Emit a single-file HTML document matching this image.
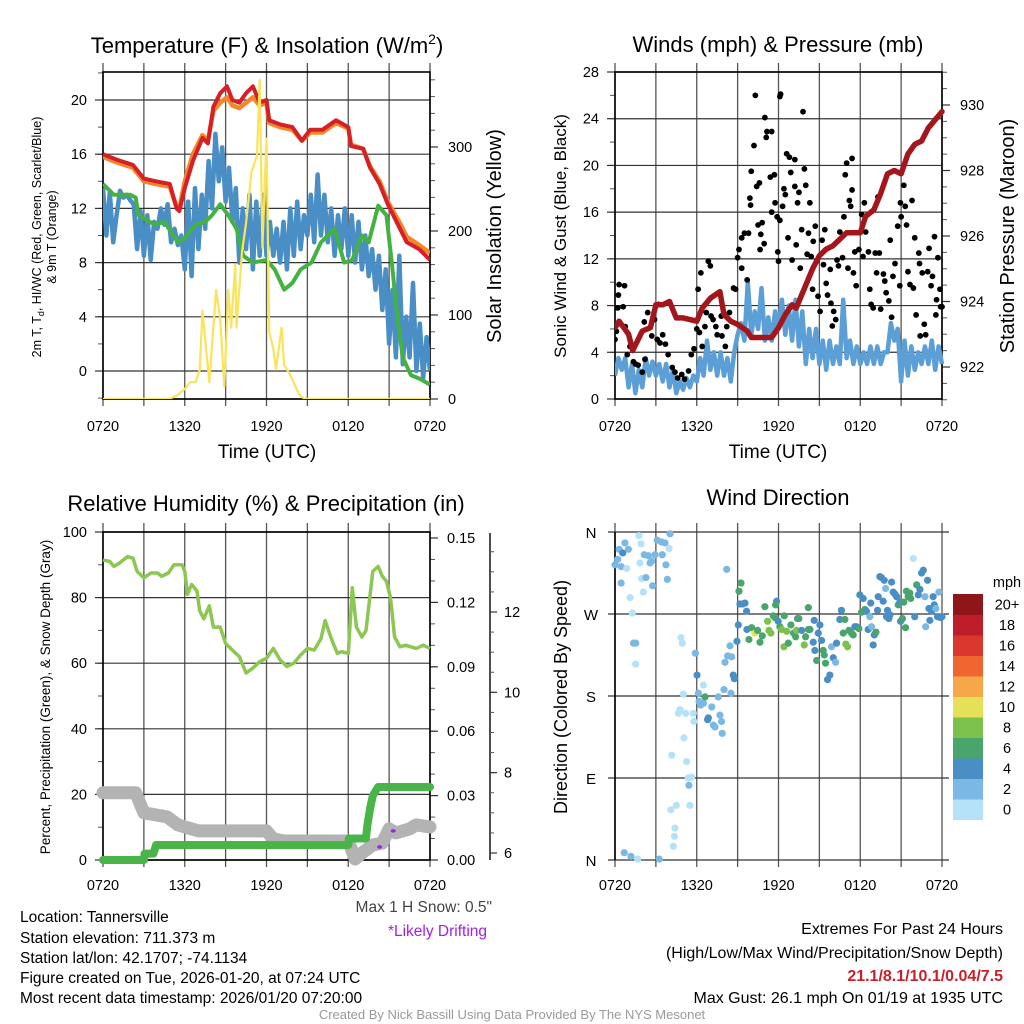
<!DOCTYPE html>
<html><head><meta charset="utf-8"><title>Tannersville Meteogram</title>
<style>
html,body{margin:0;padding:0;background:#fff;}
svg{display:block;font-family:"Liberation Sans",sans-serif;}
</style></head>
<body>
<svg id="chart" width="1024" height="1024" viewBox="0 0 1024 1024" xmlns="http://www.w3.org/2000/svg">
<rect width="1024" height="1024" fill="#fff"/>
<g id="layer"></g>
<text x="267" y="53" font-size="22" text-anchor="middle">Temperature (F) &amp; Insolation (W/m<tspan font-size="14" dy="-9">2</tspan><tspan dy="9">)</tspan></text>
<text x="778" y="52" font-size="22" text-anchor="middle">Winds (mph) &amp; Pressure (mb)</text>
<text x="266" y="511" font-size="22" text-anchor="middle">Relative Humidity (%) &amp; Precipitation (in)</text>
<text x="778" y="505" font-size="22" text-anchor="middle">Wind Direction</text>
<text x="267" y="458" font-size="19" text-anchor="middle">Time (UTC)</text>
<text x="778" y="458" font-size="19" text-anchor="middle">Time (UTC)</text>
<text transform="translate(41,237) rotate(-90)" font-size="12.5" text-anchor="middle">2m T, T<tspan font-size="9" dy="3">d</tspan><tspan dy="-3">, HI/WC (Red, Green, Scarlet/Blue)</tspan></text>
<text transform="translate(56,237) rotate(-90)" font-size="12.5" text-anchor="middle">&amp; 9m T (Orange)</text>
<text transform="translate(501,236) rotate(-90)" font-size="20" text-anchor="middle">Solar Insolation (Yellow)</text>
<text transform="translate(566,236) rotate(-90)" font-size="17" text-anchor="middle">Sonic Wind &amp; Gust (Blue, Black)</text>
<text transform="translate(1014,236) rotate(-90)" font-size="20" text-anchor="middle">Station Pressure (Maroon)</text>
<text transform="translate(50,697) rotate(-90)" font-size="13.5" text-anchor="middle">Percent, Precipitation (Green), &amp; Snow Depth (Gray)</text>
<text transform="translate(567,697) rotate(-90)" font-size="18" text-anchor="middle">Direction (Colored By Speed)</text>
<g font-size="15.5">
<text x="20" y="922">Location: Tannersville</text>
<text x="20" y="943">Station elevation: 711.373 m</text>
<text x="20" y="963">Station lat/lon: 42.1707; -74.1134</text>
<text x="20" y="983">Figure created on Tue, 2026-01-20, at 07:24 UTC</text>
<text x="20" y="1003">Most recent data timestamp: 2026/01/20 07:20:00</text>
</g>
<text x="492" y="912" font-size="15.5" fill="#444" text-anchor="end">Max 1 H Snow: 0.5"</text>
<text x="487" y="936" font-size="15.5" fill="#a020f0" text-anchor="end">*Likely Drifting</text>
<g font-size="16" text-anchor="end">
<text x="1003" y="934">Extremes For Past 24 Hours</text>
<text x="1003" y="958">(High/Low/Max Wind/Precipitation/Snow Depth)</text>
<text x="1003" y="981" fill="#c8202a" font-weight="bold">21.1/8.1/10.1/0.04/7.5</text>
<text x="1003" y="1003">Max Gust: 26.1 mph On 01/19 at 1935 UTC</text>
</g>
<text x="512" y="1019" font-size="13" fill="#999" text-anchor="middle">Created By Nick Bassill Using Data Provided By The NYS Mesonet</text>
</svg>
<script>
// ---------- DATA ----------
const xTickLabels = ["0720","1320","1920","0120","0720"];
const tempT = [0,1,2.2,3,3.9,4.9,5.4,5.6,6,6.6,7.3,7.7,8.1,8.6,9.1,9.5,10,10.5,11,11.5,12,12.2,13,13.9,14.6,15.2,16.1,17.1,18,18.2,19.1,19.6,20.3,20.9,21.8,22.3,23.2,24];
const tempRed = [16,15.6,15.2,14.2,14,13.8,12,11.8,13.5,15.5,17.2,16.8,19.5,20.5,21,20,19.8,20.5,21,19.8,20,18.5,18.2,18,17,17.8,17.8,18.5,18,16.6,16.4,15,13.8,12.3,10.5,9.5,9,8.2];
const tempOrange = [15.8,15.4,15,14,13.8,13.6,12.1,12,14,16,17.4,17,19.2,19.8,20.2,19.6,19.4,19.8,20.2,19.6,19.8,18.3,18,17.8,17,17.6,17.6,18.3,17.9,16.7,16.4,15.1,14,12.5,10.9,9.9,9.3,8.7];
const dewT = [0,0.8,1.5,2,2.4,2.6,3.8,4.5,5.5,6,6.8,7.5,8,8.6,9.2,9.8,10.3,11,12,12.6,13.3,13.9,14.5,15.3,16,17,17.7,18.3,19,19.5,20.2,20.8,21.2,21.6,22,22.6,23.3,24];
const dewV = [13.8,13,13,13,12.8,11.5,10.8,11,9.5,9.8,10.8,11,11.5,12.3,11.5,10.5,8.5,8,8.2,7.5,6,6.5,7.5,8,9.5,10.5,8,8.2,10,9.5,12.2,11.5,8,4,1,-0.3,-0.6,-1];
const wcV = [13.5,10,13.2,9.5,11.5,13.3,12.8,13,12.6,12.3,9,11.8,8.5,11.5,8.2,11,10.5,12,10.8,12.3,9.5,10.5,9.3,10,7.5,12.5,7,13.5,9,13,10.5,15.5,12,17.5,14,16.5,12.5,15,11,13.5,8,12,9,13,7.5,12.5,8.5,13,8.5,11,8.5,10.5,8,11,7.5,12,8.5,12.5,9,11.5,10,13,9.5,14.5,10,13,9.5,12,8.5,11.5,9,12,8.5,11.5,8,11,7.5,10,7,9,6,8.5,4.5,7.5,2,6,1,8.5,0.5,4,1,6.5,0,3.5,-0.5,2.5,0];
const solarT = [0,4.8,5,5.5,6,6.4,6.8,7.1,7.3,7.8,8.3,8.6,8.9,9.2,9.4,9.7,9.8,10.2,10.5,10.9,11.3,11.5,11.7,12,12.2,12.5,12.7,13.1,13.3,13.7,14.4,14.8,24];
const solarV = [0,0,1,5,12,20,20,35,105,20,130,95,15,130,85,160,85,175,210,270,290,380,180,310,80,60,35,85,40,30,5,0,0];
const pressT = [0,0.3,1,1.3,2,2.6,3,3.5,4,4.5,5,6,6.4,7,7.7,8,8.5,9,9.7,10,10.5,11,11.5,12,12.5,13,13.3,14,14.5,15,15.5,16,16.5,17,18,18.4,19,19.5,20,20.5,21,21.5,22,22.5,23,24];
const pressV = [923.2,923.4,923.0,922.5,923.1,923.2,923.9,923.9,924.0,923.5,923.5,923.4,923.8,924.1,924.3,923.6,923.4,923.3,923.1,922.9,922.9,922.9,922.9,923.2,923.6,923.9,923.8,924.5,925.0,925.4,925.6,925.7,925.9,926.1,926.1,926.6,926.8,927.3,927.9,928.0,927.9,928.5,928.8,928.9,929.3,929.8];
const windV = [2,3.5,2.5,3.5,1,3,0.5,2.5,1,3.5,2,3.2,2,3,1.5,3,1,2.5,0.5,1.5,0.8,1.8,1,2,1.5,3.5,2,5,2.5,4,2,4,2,3.5,1.5,4,5.5,6.5,5,10,5.5,7.5,6,9.5,5,7,5,7.5,6,8.5,5.5,8,5,8.5,4.5,7.5,3,6,3.5,6,3,5,2.5,5,3,4.5,3,8.5,3.5,5,3,4.5,3,4,3,4.5,3,4.5,3,4,4,6.5,5,6,1.5,5,2,4.5,2.5,4,3,4.5,3,5,2.5,4.5,3];
const gustT = [0,0.1,0.2,0.25,0.3,0.7,0.6,0.75,0.9,1.1,1.35,1.5,1.7,2,2.15,2.2,2.4,2.7,2.9,3.1,3.2,3.3,3.5,3.7,3.9,4.2,4.4,4.6,4.9,5.1,5.4,5.6,5.8,6,6.1,6.2,6.3,6.4,6.6,6.7,6.85,7,7.05,7.2,7.4,7.5,7.8,7.85,8.1,8.2,8.4,8.7,8.85,9,9.1,9.3,9.3,9.5,9.7,9.8,9.9,9.95,10,10.2,10.3,10.4,10.5,10.6,10.65,10.7,10.8,10.95,11,11.1,11.15,11.4,11.5,11.5,11.7,11.75,11.9,11.95,12,12.1,12.1,12.15,12.3,12.4,12.5,12.6,12.7,12.8,12.9,13,13.2,13.2,13.3,13.4,13.5,13.6,13.7,13.8,13.9,14,14.1,14.2,14.3,14.4,14.5,14.55,14.7,14.8,14.9,15.05,15.2,15.3,15.4,15.5,15.6,15.8,15.85,15.95,16.05,16.2,16.3,16.4,16.5,16.7,16.8,16.9,17,17.1,17.2,17.3,17.4,17.4,17.5,17.6,17.7,17.9,18.1,18.2,18.3,18.4,18.6,18.7,18.8,18.95,19.1,19.2,19.3,19.4,19.5,19.7,19.8,19.9,20.1,20.2,20.3,20.4,20.55,20.75,20.9,20.95,21,21.2,21.3,21.4,21.5,21.65,21.8,21.9,22,22.1,22.3,22.35,22.4,22.55,22.7,22.8,22.95,23.05,23.2,23.3,23.45,23.55,23.6,23.7,23.85,23.9,24];
const gustV = [5.1,5.8,7.8,8.9,9.8,9.7,7.9,6.2,3.8,4.5,3.2,3.0,2.9,2.3,6.6,3.4,7.4,5.4,6.8,5.1,8.1,4.8,5.5,4.7,3.8,2.7,2.3,1.8,2.1,1.7,2.4,3.8,4.3,6.0,9.4,5.7,10.8,4.5,6.2,7.4,11.8,11.4,7.1,6.8,6.2,5.5,7.1,5.4,4.5,6.2,7.4,9.5,9.4,12.1,12.8,11.2,13.8,14.2,10.2,14.2,17.2,16.6,19.5,21.7,26,18.2,14.9,18.5,12.8,14.1,15.1,13.3,24.1,22.4,22.9,19,22.9,16,19.2,16.8,15.6,12.6,11.8,15.3,25.9,26.1,16.5,18,17.5,21,13.8,20.7,19.4,11.9,20.5,18.2,13.2,16.8,17.7,11.2,14.5,24.6,19.7,18.3,12.4,14.2,16.8,12.2,9.4,13.5,14.8,11.8,8.8,7.5,13.6,11.5,14.5,9.9,8.9,11.1,8.2,6.25,7.5,6.8,11.9,11.4,14.3,12.1,15.6,19.2,20.2,11.2,17,16.5,17.9,20.6,10.8,12.6,9.7,12.8,15.8,12.2,16.8,14.3,12.6,9.4,8.1,7.8,12.5,10.8,17.3,12.5,7.7,10.7,10.1,9.1,8.4,13.6,7,10.5,11.6,14.8,9.7,16.8,15.6,18.3,16.5,14.9,10.9,9.8,17,9.5,13.8,7.2,12.5,11.6,5.4,10.8,6.4,5.5,10.9,12.9,9.7,10.5,13.9,7.2,8.5,12.1,9.4,7.9,7.9];
const rhT = [0,0.5,0.8,1.2,1.8,2.2,2.5,3,3.5,4,4.3,4.8,5.2,5.8,6,6.2,6.5,6.9,7.1,7.4,7.8,8.1,8.6,9,9.5,10,10.5,11,11.5,12,12.5,13,13.5,14,14.5,15,15.5,16,16.3,16.8,17.2,17.5,18,18.3,18.6,19,19.3,19.8,20.2,20.5,20.8,21.1,21.4,21.8,22.2,22.6,23,23.5,24];
const rhV = [91.5,91,89.5,90.5,92.5,92,88,86,87.5,87.5,86.5,87.5,90,90,88,81,84,82,76,73.5,77.5,71,71,66,64,62,57,58.5,60.5,61.5,64.5,61,59,60,62.5,64.5,64,67.5,73,67,63,63.5,63,83,71,68,70,88,89.5,86.5,85,80,68,65,65.5,65,64.5,65.5,64.5];
const precipT = [0,3,3.05,3.7,3.9,18,18.05,19.3,19.4,19.6,19.8,20.2,24];
const precipV = [0,0,0.003,0.003,0.007,0.007,0.01,0.01,0.016,0.024,0.03,0.034,0.034];
const snowT = [0,2.4,3,4.7,5.5,7,12,12.5,13.3,18,18.5,19,19.8,20.5,21,21.5,22.5,23,24];
const snowV = [7.5,7.5,7.0,6.9,6.7,6.55,6.55,6.35,6.3,6.3,5.85,6.0,6.2,6.25,6.6,6.5,6.6,6.7,6.65];
const driftT = [20.3,21.3];
const driftV = [6.15,6.55];
const dirT = [0,0.2,0.3,0.45,0.57,0.73,0.98,0.45,0.86,1.1,1.27,1.36,1.52,1.52,1.76,1.91,1.83,1.96,2.08,2.15,2.27,2.45,2.57,2.69,2.76,2.94,3.1,3.42,3.67,3.47,3.74,3.84,3.97,4.04,0.68,1.17,1.66,3.25,4.28,4.36,4.4,4.1,4.5,4.16,4.65,4.84,4.94,4.77,5.01,5.19,5.06,5.26,5.38,5.43,5.5,5.62,5.75,5.79,5.9,6.02,6.12,6.17,6.29,6.49,6.49,6.61,6.8,6.85,7.1,7.22,7.34,7.58,7.7,7.82,7.87,8,8.07,8.27,8.44,8.56,8.2,8.51,8.68,8.76,8.95,9.05,9.1,9.25,9.17,9.37,9.54,9.66,9.68,9.83,10.03,10.27,10.47,10.64,10.81,11,11.2,11.3,11.44,11.62,11.74,11.86,11.79,11.98,12.1,12.23,12.42,12.4,12.6,12.72,12.91,13.11,13.26,13.33,13.4,13.5,13.7,13.89,13.99,14.19,14.19,14.31,14.55,14.62,14.67,14.8,14.92,15.04,15.16,15.28,15.36,15.45,15.6,15.77,15.89,16.02,16.19,16.26,16.5,16.62,16.75,16.87,16.94,17.07,17.17,17.36,17.48,17.6,17.73,17.9,17.97,18.1,18.22,18.34,18.46,18.58,18.7,18.77,18.83,18.95,19.03,19.15,19.27,19.32,19.44,19.56,19.68,19.76,19.86,19.93,20,20.1,20.18,20.3,20.42,20.54,20.67,20.79,20.91,20.96,21.1,21.2,21.32,21.39,21.52,21.64,21.71,21.89,22,22.14,22.26,22.38,22.5,22.63,22.75,22.8,22.94,23.04,23.11,23.23,23.35,23.43,23.55,23.67,23.77,23.9,24];
const dirV = [324,330,341,322,337,348,341,304,320,288,271,238,238,215,356,347,326,309,294,335,310,334,326,328,301,335,351,349,348,335,324,308,342,358,8,4,1,1,15,26,35,55,60,115,161,244,238,165,182,161,134,108,90,82,60,91,161,152,227,203,183,174,170,192,172,179,154,156,168,148,146,179,159,152,139,187,217,224,235,223,319,183,203,199,240,258,295,304,281,281,282,273,253,242,255,249,252,239,246,278,262,252,249,268,266,284,280,262,256,253,268,234,251,238,258,249,245,252,265,265,252,236,245,277,253,253,239,263,230,219,249,258,241,230,225,216,198,203,234,222,217,238,264,274,249,264,237,234,252,249,247,256,256,254,291,272,287,275,273,253,267,282,256,236,247,250,274,289,311,310,284,307,298,267,274,265,269,305,294,292,289,280,283,262,265,283,255,295,289,293,287,331,267,302,291,297,315,318,289,256,307,276,263,273,289,280,276,267,294,266,267];
const dirS = [3,3,3,3,5,3,3,3,1,1,1,3,3,1,1,1,1,1,1,3,3,3,3,3,3,3,3,3,3,3,3,3,1,3,3,3,1,3,1,1,1,1,1,1,1,1,1,1,1,1,1,1,1,3,1,1,1,1,3,5,3,3,3,1,3,7,5,5,3,3,3,3,3,3,3,3,3,3,3,3,3,3,5,5,5,5,7,7,5,5,5,5,5,7,7,11,7,7,7,7,9,9,9,7,7,5,7,5,7,9,7,9,9,7,7,7,7,9,5,7,5,9,7,7,7,7,5,5,5,7,5,5,5,7,7,7,5,5,3,5,3,5,5,5,7,7,9,9,7,7,7,5,5,7,5,7,5,7,5,5,3,5,3,5,5,7,5,5,5,5,5,5,3,5,5,5,5,5,5,5,5,7,5,5,7,7,7,7,7,7,7,1,5,7,5,5,5,5,3,3,5,5,5,5,5,5,3,5,3,5,5];
const speedColors = ["#b5e2f8","#7bb8e3","#4a8ec6","#49a56b","#7cc14b","#e6e059","#f6a848","#f06630","#dc372c","#bd1e2a","#8e161b"];
const speedLabels = ["0","2","4","6","8","10","12","14","16","18","20+"];

// ---------- DRAWING ----------
const NS = "http://www.w3.org/2000/svg";
const layer = document.getElementById("layer");
function el(tag, attrs, parent){ const e=document.createElementNS(NS,tag); for(const k in attrs) e.setAttribute(k,attrs[k]); (parent||layer).appendChild(e); return e; }
function txt(x,y,s,size,anchor){ const t=el("text",{x:x,y:y,"font-size":size,"text-anchor":anchor||"middle"}); t.textContent=s; return t; }

const X0=103, X1=430, X0R=615, X1R=942;
function xs(a,b){ return t => a + t/24*(b-a); }
function ys(v0,p0,v1,p1){ return v => p0 + (v-v0)*(p1-p0)/(v1-v0); }

function frame(name, xa, xb, ya, yb, tickBot){
  const g = el("g",{});
  
  
  const sx = xs(xa,xb);
  for(let i=0;i<=8;i++){
    const x = sx(i*3);
    el("line",{x1:x,y1:ya-9,x2:x,y2:yb+7,stroke:"#555","stroke-width":1.3},g);
  }
  for(let i=0;i<5;i++){
    const l = txt(sx(i*6), tickBot, xTickLabels[i], 14.5);
    
    
  }
  return {g, sx};
}
function hgrid(g,xa,xb,y){ el("line",{x1:xa,y1:y,x2:xb,y2:y,stroke:"#333","stroke-width":1.2},g); }
function border(g,xa,xb,ya,yb){ el("rect",{x:xa,y:ya,width:xb-xa,height:yb-ya,fill:"none",stroke:"#000","stroke-width":1.6},g); }
function leftAxis(g,xa,sy,vals,minor,labelFmt){
  minor.forEach(v=>el("line",{x1:xa-5,y1:sy(v),x2:xa,y2:sy(v),stroke:"#555","stroke-width":1},g));
  vals.forEach(v=>{ el("line",{x1:xa-8,y1:sy(v),x2:xa,y2:sy(v),stroke:"#333","stroke-width":1.2},g);
    const l=txt(xa-16,sy(v)+5,labelFmt?labelFmt(v):String(v),14.5,"end");
    
     });
}
function rightAxis(g,xb,sy,vals,minor,labelFmt,lx){
  minor.forEach(v=>el("line",{x1:xb,y1:sy(v),x2:xb+5,y2:sy(v),stroke:"#555","stroke-width":1},g));
  vals.forEach(v=>{ el("line",{x1:xb,y1:sy(v),x2:xb+8,y2:sy(v),stroke:"#333","stroke-width":1.2},g);
    const l=txt(lx||xb+18,sy(v)+5,labelFmt?labelFmt(v):String(v),14.5,"start");
    
     });
}
function range(a,b,s){ const r=[]; for(let v=a; v<=b+1e-9; v+=s) r.push(+v.toFixed(4)); return r; }
function pathD(T,V,sx,sy){ return T.map((t,i)=>(i?"L":"M")+sx(t).toFixed(1)+","+sy(V[i]).toFixed(1)).join(""); }
function uniformT(n){ const r=[]; for(let i=0;i<n;i++) r.push(i*24/(n-1)); return r; }

// ===== Panel 1: Temperature =====
(function(){
  const ya=72, yb=399;
  const {g,sx} = frame("temperature",X0,X1,ya,yb,431);
  const sy = ys(0,371,20,100);
  const ss = ys(0,399,300,147);
  [0,4,8,12,16,20].forEach(v=>hgrid(g,X0,X1,sy(v)));
  hgrid(g,X0,X1,ss(0));
  leftAxis(g,X0,sy,[0,4,8,12,16,20],range(-2,22,2));
  rightAxis(g,X1,ss,[0,100,200,300],range(0,380,20));
  const clip = el("clipPath",{id:"c1"}); el("rect",{x:X0,y:ya,width:X1-X0,height:yb-ya},clip);
  const s = el("g",{"clip-path":"url(#c1)"});
  let p;
  p=el("path",{d:pathD(uniformT(wcV.length),wcV,sx,sy),fill:"none",stroke:"#4a8ec6","stroke-width":4.5,"stroke-linejoin":"round"},s);
   
  p=el("path",{d:pathD(dewT,dewV,sx,sy),fill:"none",stroke:"#45b143","stroke-width":4,"stroke-linejoin":"round"},s);
   
  p=el("path",{d:pathD(tempT,tempOrange,sx,sy),fill:"none",stroke:"#f5852a","stroke-width":4.5,"stroke-linejoin":"round"},s);
   
  p=el("path",{d:pathD(tempT,tempRed,sx,sy),fill:"none",stroke:"#d42027","stroke-width":4,"stroke-linejoin":"round"},s);
   
  p=el("path",{d:pathD(solarT,solarV,sx,ss),fill:"none",stroke:"#fbe35a","stroke-width":2.2,"stroke-linejoin":"round"},s);
   
  border(g,X0,X1,ya,yb);
})();

// ===== Panel 2: Winds =====
(function(){
  const ya=72, yb=399;
  const {g,sx} = frame("winds",X0R,X1R,ya,yb,431);
  const sy = ys(0,399,28,72);
  const sp = ys(922,367,930,105);
  [0,4,8,12,16,20,24,28].forEach(v=>hgrid(g,X0R,X1R,sy(v)));
  leftAxis(g,X0R,sy,[0,4,8,12,16,20,24,28],range(0,28,2));
  rightAxis(g,X1R,sp,[922,924,926,928,930],range(921,931,0.5));
  const clip = el("clipPath",{id:"c2"}); el("rect",{x:X0R,y:ya-2,width:X1R-X0R+3,height:yb-ya+2},clip);
  const s = el("g",{"clip-path":"url(#c2)"});
  let p=el("path",{d:pathD(uniformT(windV.length),windV,sx,sy),fill:"none",stroke:"#5b9fd6","stroke-width":4.5,"stroke-linejoin":"round"},s);
   
  gustT.forEach((t,i)=>{
    const c=el("circle",{cx:sx(t),cy:sy(gustV[i]),r:2.9,fill:"#000"},s);
    
    
  });
  p=el("path",{d:pathD(pressT,pressV,sx,sp),fill:"none",stroke:"#a3171c","stroke-width":5.5,"stroke-linejoin":"round","stroke-linecap":"round"},s);
   
  border(g,X0R,X1R,ya,yb);
})();

// ===== Panel 3: RH & precip =====
(function(){
  const ya=532, yb=860;
  const {g,sx} = frame("humidity",X0,X1,ya,yb,890);
  const sy = ys(0,860,100,532);
  const sq = ys(0,860,0.15,538);
  const sn = ys(6,853,12,612);
  [0,20,40,60,80,100].forEach(v=>hgrid(g,X0,X1,sy(v)));
  leftAxis(g,X0,sy,[0,20,40,60,80,100],range(0,100,10));
  rightAxis(g,X1,sq,[0,0.03,0.06,0.09,0.12,0.15],range(0,0.15,0.01),v=>v.toFixed(2),447);
  el("line",{x1:490,y1:533,x2:490,y2:860,stroke:"#222","stroke-width":1.6},g);
  range(6,14,0.5).forEach(v=>{ if(sn(v)>=533) el("line",{x1:490,y1:sn(v),x2:494,y2:sn(v),stroke:"#555","stroke-width":1},g); });
  [6,8,10,12].forEach(v=>{ el("line",{x1:490,y1:sn(v),x2:497,y2:sn(v),stroke:"#333","stroke-width":1.2},g);
    const l=txt(504,sn(v)+5,String(v),14.5,"start");
      });
  const s = el("g",{});
  let p=el("path",{d:pathD(snowT,snowV,sx,sn),fill:"none",stroke:"#b3b3b3","stroke-width":13,"stroke-linejoin":"round","stroke-linecap":"round"},s);
   
  driftT.forEach((t,i)=>{ const c=el("ellipse",{cx:sx(t),cy:sn(driftV[i]),rx:2.5,ry:1.8,fill:"#a020f0"},s);
      });
  p=el("path",{d:pathD(precipT,precipV,sx,sq),fill:"none",stroke:"#49b548","stroke-width":8,"stroke-linejoin":"round","stroke-linecap":"round"},s);
   
  p=el("path",{d:pathD(rhT,rhV,sx,sy),fill:"none",stroke:"#8dc652","stroke-width":3.5,"stroke-linejoin":"round"},s);
   
  el("rect",{x:X0,y:ya,width:X1-X0,height:yb-ya,fill:"none",stroke:"#000","stroke-width":1.6},g);
})();

// ===== Panel 4: Wind direction =====
(function(){
  const ya=532, yb=860;
  const {g,sx} = frame("wind-direction",X0R,X1R,ya,yb,890);
  const sy = ys(0,860,360,532);
  const dirLab = ["N","E","S","W","N"];
  [0,90,180,270,360].forEach((v,i)=>{ hgrid(g,X0R-7,X1R+7,sy(v));
    const l=txt(X0R-24,sy(v)+6,dirLab[i],15,"middle");
      });
  el("line",{x1:X0R,y1:ya,x2:X0R,y2:yb,stroke:"#000","stroke-width":1.6},g);
  const s = el("g",{});
  dirT.forEach((t,i)=>{
    const ci=Math.min(10,Math.floor(dirS[i]/2));
    const c=el("circle",{cx:sx(t),cy:sy(dirV[i]),r:3.6,fill:speedColors[ci]},s);
    
    
  });
  const cb = el("g",{});
  
  
  const top=594, h=20.5;
  for(let i=0;i<11;i++){
    const y = top + (10-i)*h;
    el("rect",{x:953,y:y,width:30,height:h+0.5,fill:speedColors[i]},cb);
    const l=txt(1007,y+h/2+5,speedLabels[i],14.5,"middle");
     
  }
  const u=txt(1007,587,"mph",14.5,"middle");
   
})();
</script>
</body></html>
